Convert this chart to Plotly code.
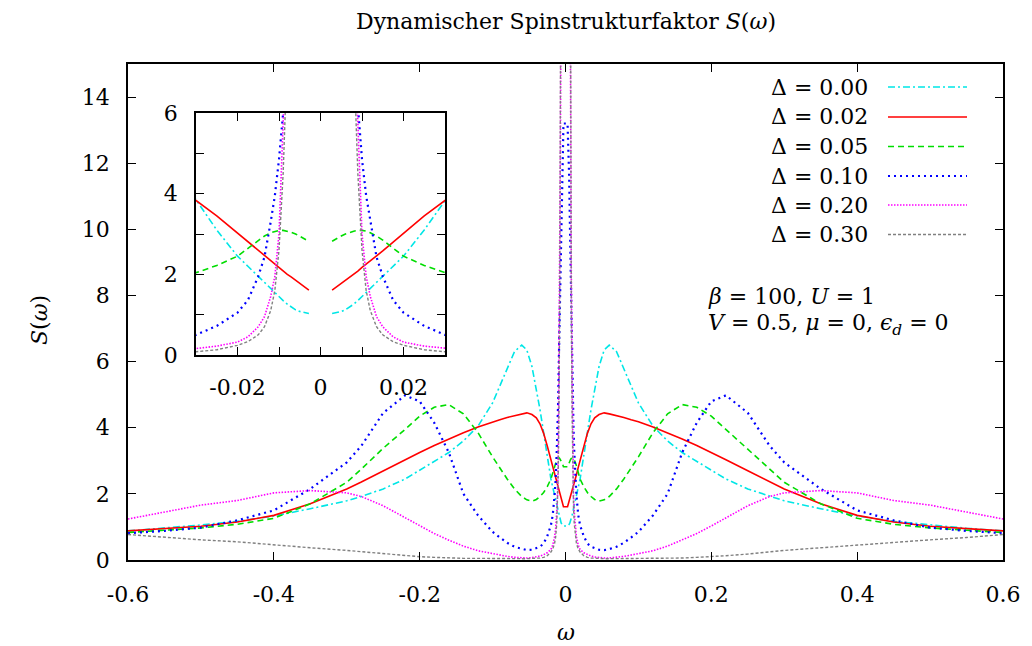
import plotly.graph_objects as go

# positive frequency grid; every curve is symmetric in omega
omega_pos = [0.0028, 0.004, 0.005, 0.006, 0.007, 0.008, 0.009, 0.01, 0.011, 0.012,
             0.0135, 0.015, 0.0175, 0.02, 0.025, 0.03, 0.035, 0.04, 0.046, 0.053,
             0.06, 0.07, 0.08, 0.09, 0.1, 0.12, 0.14, 0.16, 0.18, 0.2,
             0.22, 0.25, 0.28, 0.3, 0.35, 0.4, 0.45, 0.5, 0.55, 0.6]

s_d000 = [1.03, 1.05, 1.08, 1.12, 1.18, 1.26, 1.35, 1.45, 1.54, 1.63,
          1.8, 1.95, 2.2, 2.45, 3.1, 3.85, 4.55, 5.2, 5.85, 6.35,
          6.5, 6.3, 5.8, 5.25, 4.75, 4.05, 3.6, 3.25, 2.98, 2.72,
          2.45, 2.15, 1.92, 1.79, 1.55, 1.33, 1.17, 1.06, 0.96, 0.88]
s_d002 = [1.61, 1.7, 1.77, 1.85, 1.93, 2.0, 2.08, 2.17, 2.25, 2.33,
          2.46, 2.58, 2.8, 3.02, 3.45, 3.83, 4.12, 4.3, 4.4, 4.45,
          4.42, 4.37, 4.31, 4.24, 4.18, 4.02, 3.85, 3.66, 3.46, 3.25,
          3.03, 2.7, 2.36, 2.15, 1.7, 1.35, 1.15, 1.02, 0.95, 0.88]
s_d005 = [2.82, 2.9, 2.95, 3.0, 3.04, 3.07, 3.09, 3.09, 3.07, 3.03,
          2.95, 2.85, 2.65, 2.45, 2.22, 2.04, 1.92, 1.83, 1.78, 1.82,
          1.92, 2.15, 2.45, 2.78, 3.12, 3.85, 4.42, 4.7, 4.62, 4.35,
          3.95, 3.38, 2.75, 2.35, 1.7, 1.26, 1.08, 0.97, 0.9, 0.83]
s_d010 = [13.2, 12.6, 11.6, 10.2, 8.8, 7.4, 6.2, 4.85, 3.95, 3.3,
          2.43, 1.95, 1.36, 1.05, 0.72, 0.5, 0.4, 0.35, 0.31, 0.3,
          0.33, 0.4, 0.52, 0.68, 0.85, 1.35, 2.0, 3.25, 4.15, 4.8,
          4.98, 4.45, 3.45, 2.95, 2.15, 1.5, 1.2, 0.98, 0.88, 0.81]
s_d020 = [45.0, 33.0, 25.0, 18.0, 12.5, 8.5, 5.8, 3.0, 1.95, 1.45,
          0.95, 0.7, 0.45, 0.32, 0.22, 0.16, 0.12, 0.09, 0.07, 0.06,
          0.06, 0.08, 0.11, 0.15, 0.19, 0.28, 0.42, 0.6, 0.8, 1.03,
          1.28, 1.64, 1.92, 2.03, 2.1, 2.03, 1.8, 1.66, 1.45, 1.24]
s_d030 = [80.0, 55.0, 40.0, 25.0, 14.0, 7.5, 4.5, 2.6, 1.6, 1.1,
          0.7, 0.5, 0.33, 0.24, 0.13, 0.08, 0.06, 0.05, 0.04, 0.04,
          0.04, 0.04, 0.04, 0.04, 0.04, 0.05, 0.05, 0.06, 0.08, 0.1,
          0.13, 0.18, 0.25, 0.29, 0.37, 0.45, 0.55, 0.61, 0.68, 0.77]

deltas = ["0.00", "0.02", "0.05", "0.10", "0.20", "0.30"]
series = [s_d000, s_d002, s_d005, s_d010, s_d020, s_d030]
colors = ["#00e6e6", "#ff0000", "#00dd00", "#0000ff", "#ff00ff", "#808080"]
dashes = ["7px,3px,2px,3px", "solid", "6px,4px", "2px,4px", "1.5px,1.5px", "3px,2px"]
widths = [1.6, 1.6, 1.6, 2.2, 1.6, 1.4]

main_x = [-w for w in omega_pos[::-1]] + omega_pos
inset_x = [-w for w in omega_pos[::-1]] + [None] + omega_pos

FONT = "DejaVu Serif"
FS = 22
fig = go.Figure()

for d, s, c, ds, lw in zip(deltas, series, colors, dashes, widths):
    main_y = s[::-1] + s
    inset_y = s[::-1] + [None] + s
    fig.add_trace(go.Scatter(x=main_x, y=main_y, mode="lines",
                             line=dict(color=c, dash=ds, width=lw),
                             name="Δ = " + d, showlegend=False,
                             xaxis="x", yaxis="y"))
    fig.add_trace(go.Scatter(x=inset_x, y=inset_y, mode="lines",
                             line=dict(color=c, dash=ds, width=lw),
                             connectgaps=False, showlegend=False,
                             xaxis="x2", yaxis="y2"))

frame = dict(showline=True, linecolor="black", linewidth=1.5, mirror="allticks",
             ticks="inside", ticklen=8, tickcolor="black", tickwidth=1,
             showgrid=False, zeroline=False,
             tickfont=dict(family=FONT, size=FS, color="black"))

main_xt = [-0.6, -0.4, -0.2, 0.0, 0.2, 0.4, 0.6]
main_xl = ["-0.6", "-0.4", "-0.2", "0", "0.2", "0.4", "0.6"]
main_yt = [0, 2, 4, 6, 8, 10, 12, 14]
inset_xt = [-0.03, -0.02, -0.01, 0.0, 0.01, 0.02, 0.03]
inset_xl = [" ", "-0.02", " ", "0", " ", "0.02", " "]
inset_yt = [0, 1, 2, 3, 4, 5, 6]
inset_yl = ["0", " ", "2", " ", "4", " ", "6"]

x0, x1 = (196 - 128) / 875, (445 - 128) / 875
y0, y1 = (560 - 355) / 496, (560 - 113) / 496

fig.update_layout(
    width=1032, height=646,
    margin=dict(l=128, r=29, t=64, b=86),
    paper_bgcolor="white", plot_bgcolor="white",
    font=dict(family=FONT, size=FS, color="black"),
    xaxis=dict(range=[-0.6, 0.6], tickvals=main_xt, ticktext=main_xl,
               ticklabelstandoff=14, domain=[0, 1], **frame),
    yaxis=dict(range=[0, 15], tickvals=main_yt, ticklabelstandoff=12,
               domain=[0, 1], **frame),
    xaxis2=dict(range=[-0.03, 0.03], tickvals=inset_xt, ticktext=inset_xl,
                ticklabelstandoff=12, domain=[x0, x1], anchor="y2", **frame),
    yaxis2=dict(range=[0, 6], tickvals=inset_yt, ticktext=inset_yl,
                ticklabelstandoff=12, domain=[y0, y1], anchor="x2", **frame),
    showlegend=False,
)

# inset background so it sits cleanly on top of the main panel
fig.add_shape(type="rect", xref="paper", yref="paper", x0=x0, x1=x1, y0=y0, y1=y1,
              fillcolor="white", line=dict(width=0), layer="below")

ann = []
ann.append(dict(text="Dynamischer Spinstrukturfaktor <i>S</i>(<i>ω</i>)",
                xref="paper", yref="paper", x=0.5, y=(560 - 22) / 496,
                xanchor="center", yanchor="middle", showarrow=False,
                font=dict(family=FONT, size=FS)))
ann.append(dict(text="<i>ω</i>", xref="paper", yref="paper", x=0.5, y=(560 - 632) / 496,
                xanchor="center", yanchor="middle", showarrow=False,
                font=dict(family=FONT, size=FS)))
ann.append(dict(text="<i>S</i>(<i>ω</i>)", xref="paper", yref="paper",
                x=(39 - 128) / 875, y=(560 - 320) / 496, textangle=-90,
                xanchor="center", yanchor="middle", showarrow=False,
                font=dict(family=FONT, size=FS)))
ann.append(dict(text="<i>β</i> = 100, <i>U</i> = 1", xref="paper", yref="paper",
                x=(706 - 128) / 875, y=(560 - 296) / 496, xanchor="left",
                yanchor="middle", showarrow=False, font=dict(family=FONT, size=FS)))
ann.append(dict(text="<i>V</i> = 0.5, <i>μ</i> = 0, <i>ϵ</i><sub><i>d</i></sub> = 0",
                xref="paper", yref="paper", x=(706 - 128) / 875, y=(560 - 325) / 496,
                xanchor="left", yanchor="middle", showarrow=False,
                font=dict(family=FONT, size=FS)))

# key: right-aligned labels with line samples to their right
row_y = [87, 117, 146.5, 176, 205, 234.5]
for d, c, ds, lw, py in zip(deltas, colors, dashes, widths, row_y):
    yp = (560 - py) / 496
    ann.append(dict(text="Δ = " + d, xref="paper", yref="paper",
                    x=(870 - 128) / 875, y=yp, xanchor="right", yanchor="middle",
                    showarrow=False, font=dict(family=FONT, size=FS)))
    fig.add_shape(type="line", xref="paper", yref="paper",
                  x0=(888 - 128) / 875, x1=(967 - 128) / 875, y0=yp, y1=yp,
                  line=dict(color=c, dash=ds, width=lw))

fig.update_layout(annotations=ann)
fig.write_html("out.html")
